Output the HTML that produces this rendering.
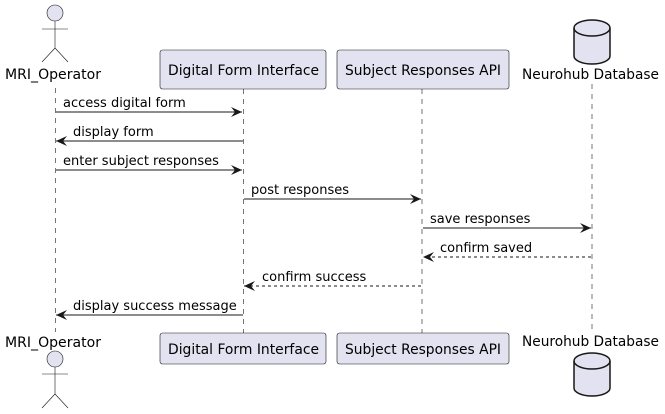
<!DOCTYPE html>
<html><head><meta charset="utf-8"><style>body{margin:0;background:#fff}svg{display:block}text{font-family:"DejaVu Sans","Liberation Sans",sans-serif;font-size:13px;fill:#000}.p{font-size:14px}</style></head><body>
<svg width="665" height="414" xmlns="http://www.w3.org/2000/svg">
<defs><marker id="a" markerWidth="12" markerHeight="10" refX="11" refY="5" orient="auto" markerUnits="userSpaceOnUse"><path d="M0,0 L11,5 L0,10 L4,5 Z" fill="#181818"/></marker></defs>
<g stroke="#181818" stroke-width="0.6" stroke-dasharray="5,5">
<line x1="55.5" y1="88" x2="55.5" y2="332"/><line x1="243.5" y1="89" x2="243.5" y2="333"/><line x1="422" y1="89" x2="422" y2="333"/><line x1="592" y1="84" x2="592" y2="333"/></g>
<g fill="#e2e2f0" stroke="#181818" stroke-width="0.6">
<rect x="160" y="50" width="166" height="39" rx="2.5"/><rect x="337" y="50" width="172" height="39" rx="2.5"/>
<rect x="160" y="333" width="166" height="31" rx="2.5"/><rect x="337" y="333" width="172" height="31" rx="2.5"/></g>
<text class="p" x="168" y="75" textLength="151" lengthAdjust="spacingAndGlyphs">Digital Form Interface</text><text class="p" x="345" y="75" textLength="156" lengthAdjust="spacingAndGlyphs">Subject Responses API</text>
<text class="p" x="168" y="354" textLength="151" lengthAdjust="spacingAndGlyphs">Digital Form Interface</text><text class="p" x="345" y="354" textLength="156" lengthAdjust="spacingAndGlyphs">Subject Responses API</text>
<g fill="#e2e2f0" stroke="#181818" stroke-width="0.6">
<circle cx="55" cy="13" r="8"/><circle cx="55" cy="359" r="8"/></g>
<g stroke="#181818" stroke-width="0.6" fill="none">
<path d="M55,21 V48 M42,29 H68 M55,48 L42,62 M55,48 L68,62"/>
<path d="M55,367 V394 M42,374 H68 M55,394 L42,408 M55,394 L68,408"/></g>
<text class="p" x="5" y="79" textLength="96" lengthAdjust="spacingAndGlyphs">MRI_Operator</text><text class="p" x="5" y="347" textLength="96" lengthAdjust="spacingAndGlyphs">MRI_Operator</text>
<g fill="#e2e2f0" stroke="#181818" stroke-width="1.5">
<path d="M574,28 A18,8 0 0 1 610,28 V56 A18,8 0 0 1 574,56 Z"/><path d="M574,28 A18,8 0 0 0 610,28" fill="none"/>
<path d="M574,361 A18,8 0 0 1 610,361 V388 A18,8 0 0 1 574,388 Z"/><path d="M574,361 A18,8 0 0 0 610,361" fill="none"/></g>
<text class="p" x="522" y="79" textLength="137" lengthAdjust="spacingAndGlyphs">Neurohub Database</text><text class="p" x="522" y="346" textLength="137" lengthAdjust="spacingAndGlyphs">Neurohub Database</text>
<g stroke="#181818" stroke-width="1" marker-end="url(#a)">
<line x1="56" y1="112" x2="242" y2="112"/><line x1="243" y1="141" x2="56" y2="141"/>
<line x1="56" y1="170" x2="242" y2="170"/><line x1="244" y1="199" x2="421" y2="199"/>
<line x1="423" y1="228" x2="591" y2="228"/>
<line x1="591" y1="257" x2="423" y2="257" stroke-dasharray="3,3"/>
<line x1="421" y1="286" x2="244" y2="286" stroke-dasharray="3,3"/>
<line x1="243" y1="315" x2="56" y2="315"/></g>
<text x="63" y="107">access digital form</text><text x="73" y="136">display form</text>
<text x="63" y="165">enter subject responses</text><text x="251" y="194">post responses</text>
<text x="430" y="223">save responses</text><text x="440" y="252">confirm saved</text>
<text x="262" y="281">confirm success</text><text x="73" y="310">display success message</text>
</svg></body></html>
